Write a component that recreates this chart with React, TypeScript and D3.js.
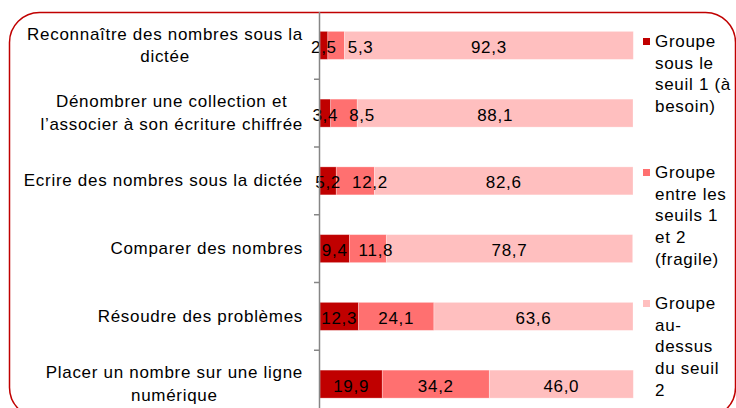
import { useEffect, useRef } from 'react';
import * as d3 from 'd3';

// categories, one array of lines per label
const categories = [
  ['Reconnaître des nombres sous la', 'dictée'],
  ['Dénombrer une collection et', 'l’associer à son écriture chiffrée'],
  ['Ecrire des nombres sous la dictée'],
  ['Comparer des nombres'],
  ['Résoudre des problèmes'],
  ['Placer un nombre sur une ligne', 'numérique'],
];

const seuil1 = [2.5, 3.4, 5.2, 9.4, 12.3, 19.9];
const fragile = [5.3, 8.5, 12.2, 11.8, 24.1, 34.2];
const auDessus = [92.3, 88.1, 82.6, 78.7, 63.6, 46.0];

const seriesNames = [
  ['Groupe', 'sous le', 'seuil 1 (à', 'besoin)'],
  ['Groupe', 'entre les', 'seuils 1', 'et 2', '(fragile)'],
  ['Groupe', 'au-', 'dessus', 'du seuil', '2'],
];
const colors = ['#c00000', '#ff7070', '#ffbfbf'];

const W = 736;
const H = 408;
const FONT = '"Liberation Sans", Arial, sans-serif';
const FS = 17;
const LS = 0.7;
const fmt = (v: number) => v.toFixed(1).replace('.', ',');

const App = () => {
  const ref = useRef<SVGSVGElement>(null);

  useEffect(() => {
    const svg = d3.select(ref.current);
    svg.selectAll('*').remove();

    const ids = categories.map((_, i) => String(i));
    const y = d3.scaleBand().domain(ids).range([11.5, 418]).paddingInner(0.587).paddingOuter(0.2935);
    const x = d3.scaleLinear().domain([0, 100]).range([320, 633]);
    const half = (y.step() - y.bandwidth()) / 2;

    // rounded frame
    svg.append('rect')
      .attr('x', 9.5).attr('y', 12.5)
      .attr('width', 726).attr('height', 405)
      .attr('rx', 30)
      .attr('fill', 'none')
      .attr('stroke', '#c00000')
      .attr('stroke-width', 1.5);

    const stacked = d3.stack<number>()
      .keys(['0', '1', '2'])
      .value((i, k) => [seuil1, fragile, auDessus][+k][i])(d3.range(categories.length));

    stacked.forEach((layer, s) => {
      svg.append('g').selectAll('rect')
        .data(layer)
        .join('rect')
        .attr('x', d => x(d[0]))
        .attr('y', (_, i) => y(ids[i])!)
        .attr('width', d => x(d[1]) - x(d[0]))
        .attr('height', y.bandwidth())
        .attr('fill', colors[s])
        .attr('stroke', '#fff')
        .attr('stroke-opacity', 0.35)
        .attr('stroke-width', 0.8);
    });

    const textGroup = () => svg.append('g')
      .attr('font-family', FONT)
      .attr('font-size', FS)
      .attr('letter-spacing', LS)
      .attr('fill', '#000');

    // value labels, pushed right when they collide with the previous one
    const labels = textGroup();
    categories.forEach((_, i) => {
      let prevRight = -Infinity;
      stacked.forEach(layer => {
        const d = layer[i];
        const t = labels.append('text')
          .attr('text-anchor', 'middle')
          .attr('y', y(ids[i])! + y.bandwidth() / 2 + 7.5)
          .text(fmt(d[1] - d[0]));
        const w = (t.node() as SVGTextElement).getComputedTextLength();
        let cx = (x(d[0]) + x(d[1])) / 2;
        if (cx - w / 2 < prevRight + 11) cx = prevRight + 11 + w / 2;
        t.attr('x', cx);
        prevRight = cx + w / 2;
      });
    });

    // y axis line with ticks between categories
    svg.append('line')
      .attr('x1', 319.5).attr('x2', 319.5)
      .attr('y1', 12).attr('y2', H)
      .attr('stroke', '#868686').attr('stroke-width', 1.5);
    svg.append('g').selectAll('line')
      .data(ids.slice(1))
      .join('line')
      .attr('x1', 314).attr('x2', 319.5)
      .attr('y1', d => y(d)! - half)
      .attr('y2', d => y(d)! - half)
      .attr('stroke', '#868686').attr('stroke-width', 1.5);

    // category labels: block right aligned, lines centred inside it
    const cats = textGroup();
    categories.forEach((lines, i) => {
      const cy = y(ids[i])! + y.bandwidth() / 2;
      const lh = 22.3;
      const texts = lines.map((ln, j) => cats.append('text')
        .attr('text-anchor', 'middle')
        .attr('y', cy + (j - (lines.length - 1) / 2) * lh + 5.5)
        .text(ln));
      const maxW = d3.max(texts, t => (t.node() as SVGTextElement).getComputedTextLength())!;
      texts.forEach(t => t.attr('x', 303 - maxW / 2));
    });

    // legend
    const legend = textGroup();
    seriesNames.forEach((lines, s) => {
      const base = 47 + s * 131;
      legend.append('rect')
        .attr('x', 643).attr('y', base - 9)
        .attr('width', 7).attr('height', 7)
        .attr('fill', colors[s]);
      lines.forEach((ln, j) => {
        legend.append('text')
          .attr('x', 655)
          .attr('y', base + j * 21.7)
          .text(ln);
      });
    });
  }, []);

  return (
    <div style={{ position: 'absolute', left: 0, top: 0 }}>
      <svg ref={ref} width={W} height={H} style={{ display: 'block', background: '#fff' }} />
    </div>
  );
};

export default App;
